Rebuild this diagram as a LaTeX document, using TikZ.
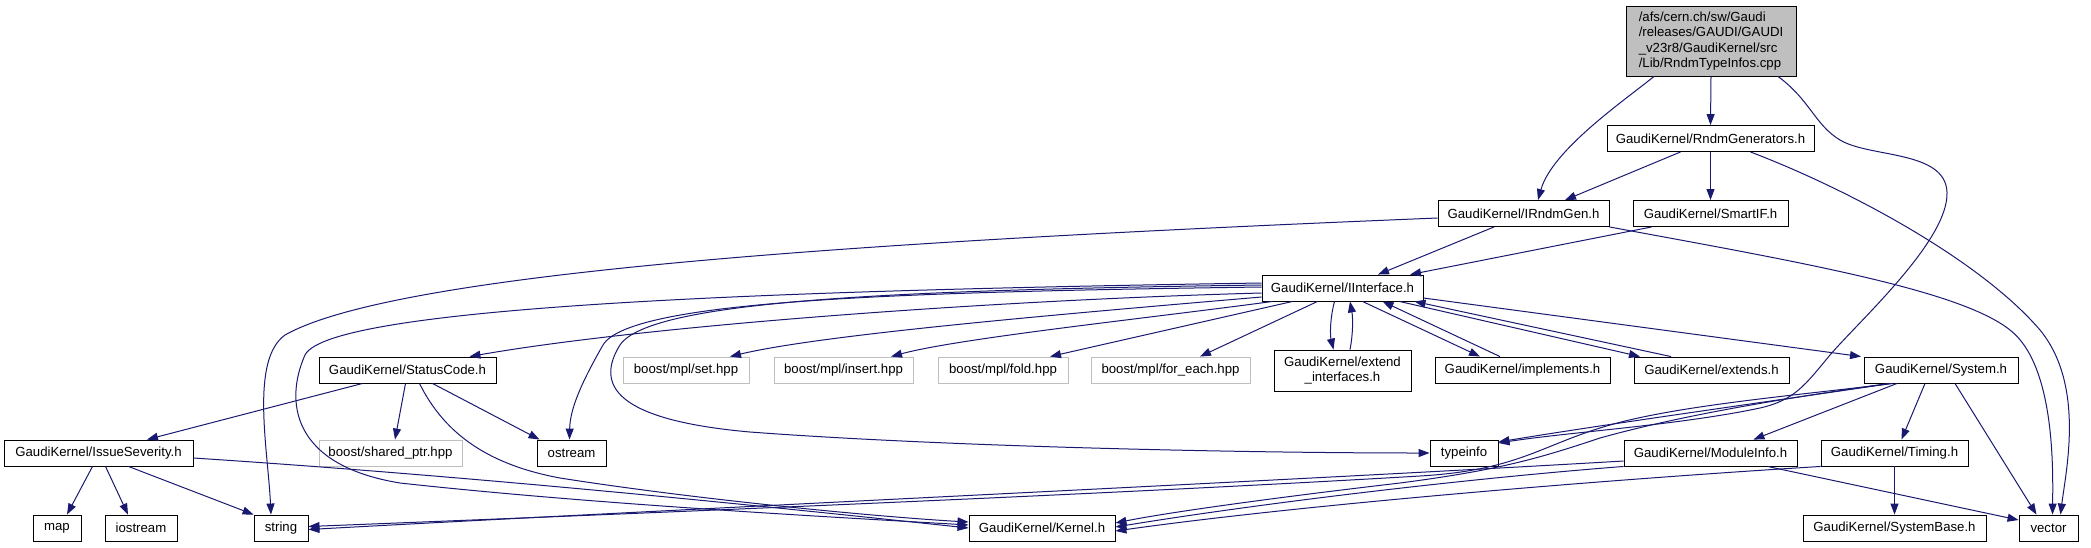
\documentclass[tikz,border=0pt]{standalone}
\usepackage{fontspec}
\setmainfont{Liberation Sans}
\usetikzlibrary{arrows.meta}
\definecolor{edgeblue}{HTML}{191970}
\definecolor{grey75}{HTML}{BFBFBF}
\newcommand\dfnt{\fontsize{13.2}{15.3}\selectfont}
\begin{document}
\begin{tikzpicture}[x=1pt,y=-1pt,
  box/.style={draw=black,line width=0.9pt,rectangle,minimum height=26pt,inner sep=0pt,font=\dfnt,fill=white},
  gbox/.style={box,draw=grey75},
  edge/.style={draw=edgeblue,line width=1pt,-{Triangle[length=11pt,width=8pt]}}]
\useasboundingbox (0,0) rectangle (2091,547);
% nodes
\node[box,minimum width=170pt,minimum height=70pt,fill=grey75,align=left] (root) at (1711,41) {/afs/cern.ch/sw/Gaudi\\/releases/GAUDI/GAUDI\\\_v23r8/GaudiKernel/src\\/Lib/RndmTypeInfos.cpp};
\node[box,minimum width=207pt] (RG) at (1710.5,138.5) {GaudiKernel/RndmGenerators.h};
\node[box,minimum width=171pt] (IRG) at (1523.5,213.5) {GaudiKernel/IRndmGen.h};
\node[box,minimum width=155pt] (SIF) at (1710.5,213.5) {GaudiKernel/SmartIF.h};
\node[box,minimum width=161pt] (II) at (1342.5,288) {GaudiKernel/IInterface.h};
\node[box,minimum width=177pt] (SC) at (407.5,370) {GaudiKernel/StatusCode.h};
\node[gbox,minimum width=126pt] (set) at (686,370) {boost/mpl/set.hpp};
\node[gbox,minimum width=139pt] (ins) at (843.5,370) {boost/mpl/insert.hpp};
\node[gbox,minimum width=130pt] (fold) at (1003,370) {boost/mpl/fold.hpp};
\node[gbox,minimum width=159pt] (fe) at (1170.5,370) {boost/mpl/for\_each.hpp};
\node[box,minimum width=137pt,minimum height=41pt,align=center] (ei) at (1342.5,370.5) {GaudiKernel/extend\\\_interfaces.h};
\node[box,minimum width=175pt] (impl) at (1522.5,370) {GaudiKernel/implements.h};
\node[box,minimum width=155pt] (ext) at (1711.5,370) {GaudiKernel/extends.h};
\node[box,minimum width=154pt] (sys) at (1941,370) {GaudiKernel/System.h};
\node[box,minimum width=189pt] (IS) at (98.5,453) {GaudiKernel/IssueSeverity.h};
\node[gbox,minimum width=143pt] (sp) at (390.5,453) {boost/shared\_ptr.hpp};
\node[box,minimum width=69pt] (os) at (571.5,453) {ostream};
\node[box,minimum width=68pt] (ti) at (1464,453) {typeinfo};
\node[box,minimum width=173pt] (mi) at (1710.5,453) {GaudiKernel/ModuleInfo.h};
\node[box,minimum width=147pt] (tm) at (1894.5,453) {GaudiKernel/Timing.h};
\node[box,minimum width=48pt] (map) at (57,528) {map};
\node[box,minimum width=72pt] (ios) at (141,528) {iostream};
\node[box,minimum width=54pt] (str) at (281,528) {string};
\node[box,minimum width=146pt] (ker) at (1042,528) {GaudiKernel/Kernel.h};
\node[box,minimum width=183pt] (sb) at (1894.5,528) {GaudiKernel/SystemBase.h};
\node[box,minimum width=59pt] (vec) at (2048.5,528) {vector};
% edges
\draw[edge] (root.south) -- (RG.north);
\draw[edge] ([xshift=-57pt]root.south) .. controls (1625,100) and (1552,150) .. ([xshift=14.5pt]IRG.north);
\draw[edge] ([xshift=67pt]root.south) .. controls (1810,100) and (1815,125) .. (1840,140) .. controls (1870,158) and (1945,150) .. (1947,192) .. controls (1949,240) and (1860,320) .. (1830,355) .. controls (1805,385) and (1795,400) .. (1760,408) .. controls (1680,425) and (1570,432) .. ([yshift=10pt]ti.east);
\draw[edge] ([xshift=-30pt]RG.south) -- ([xshift=41.5pt]IRG.north);
\draw[edge] (RG.south) -- (SIF.north);
\draw[edge] ([xshift=40pt]RG.south) .. controls (1850,190) and (1980,260) .. (2040,330) .. controls (2085,385) and (2066,470) .. ([xshift=12pt]vec.north);
\draw[edge] ([xshift=-29.5pt]IRG.south) -- ([xshift=35.5pt]II.north);
\draw[edge] ([yshift=-4.5pt]IRG.west) .. controls (900,240) and (400,270) .. (285,335) .. controls (250,360) and (268,450) .. ([xshift=-10pt]str.north);
\draw[edge] (IRG.south east) .. controls (1800,262) and (1960,290) .. (2010,330) .. controls (2055,365) and (2053,470) .. ([xshift=4pt]vec.north);
\draw[edge] ([xshift=-59pt]SIF.south) -- ([xshift=67.5pt]II.north);
\draw[edge] ([yshift=-5pt]II.west) .. controls (1000,300) and (650,325) .. ([xshift=62pt]SC.north);
\draw[edge] ([yshift=5pt]II.west) .. controls (800,290) and (330,305) .. (305,355) .. controls (285,400) and (290,465) .. (400,483) .. controls (600,505) and (850,518) .. ([yshift=3pt]ker.west);
\draw[edge] ([yshift=1pt]II.west) .. controls (900,292) and (630,300) .. (603,345) .. controls (580,385) and (570,410) .. ([xshift=-2pt]os.north);
\draw[edge] ([yshift=3pt]II.west) .. controls (900,290) and (650,300) .. (620,345) .. controls (595,385) and (615,420) .. (750,432) .. controls (950,447) and (1250,453) .. (ti.west);
\draw[edge] ([yshift=-9pt]II.west) .. controls (1050,315) and (820,335) .. ([xshift=44pt]set.north);
\draw[edge] ([xshift=-70pt]II.south) .. controls (1150,318) and (960,338) .. ([xshift=47.5pt]ins.north);
\draw[edge] ([xshift=-50pt]II.south) -- ([xshift=47pt]fold.north);
\draw[edge] ([xshift=-25pt]II.south) -- ([xshift=29.5pt]fe.north);
\draw[edge] ([xshift=-8pt]II.south) .. controls (1330,318) and (1330,335) .. ([xshift=-9pt]ei.north);
\draw[edge] ([xshift=7.5pt]ei.north) .. controls (1353,335) and (1353,318) .. ([xshift=7.5pt]II.south);
\draw[edge] ([xshift=20pt]II.south) -- ([xshift=-42.5pt]impl.north);
\draw[edge] ([xshift=-22.5pt]impl.north) -- ([xshift=40pt]II.south);
\draw[edge] ([xshift=57pt]II.south) -- ([xshift=-71.5pt]ext.north);
\draw[edge] ([xshift=-40.5pt]ext.north) -- ([xshift=72pt]II.south);
\draw[edge] ([yshift=-10pt]II.east) -- ([xshift=-80pt]sys.north);
\draw[edge] ([xshift=-45pt]SC.south) -- ([xshift=48.5pt]IS.north);
\draw[edge] ([xshift=-2pt]SC.south) -- ([xshift=4.5pt]sp.north);
\draw[edge] ([xshift=25pt]SC.south) -- ([xshift=-32pt]os.north);
\draw[edge] ([xshift=12pt]SC.south) .. controls (445,435) and (490,465) .. (560,478) .. controls (700,500) and (880,517) .. ([yshift=6pt]ker.west);
\draw[edge] ([xshift=-6pt]IS.south) -- ([xshift=10pt]map.north);
\draw[edge] ([xshift=7pt]IS.south) -- ([xshift=-13pt]ios.north);
\draw[edge] ([xshift=30pt]IS.south) -- (str.north west);
\draw[edge] ([yshift=-5pt]IS.east) .. controls (500,478) and (800,510) .. (ker.west);
\draw[edge] ([xshift=-50pt]sys.south) .. controls (1780,400) and (1600,425) .. ([yshift=11pt]ti.east);
\draw[edge] ([xshift=-52pt]sys.south) .. controls (1830,392) and (1700,410) .. (1600,438) .. controls (1540,458) and (1500,470) .. (1400,483) .. controls (1280,497) and (1170,512) .. ([yshift=5pt]ker.east);
\draw[edge] ([xshift=-48pt]sys.south) .. controls (1800,395) and (1680,405) .. (1610,425) .. controls (1540,445) and (1520,470) .. (1420,476) .. controls (1100,495) and (600,515) .. ([yshift=1.5pt]str.east);
\draw[edge] ([xshift=-44pt]sys.south) -- ([xshift=43pt]mi.north);
\draw[edge] ([xshift=-16pt]sys.south) -- ([xshift=7pt]tm.north);
\draw[edge] ([xshift=14pt]sys.south) -- ([xshift=-12pt]vec.north);
\draw[edge] ([yshift=-8pt]mi.west) .. controls (1300,480) and (700,508) .. ([yshift=-1.5pt]str.east);
\draw[edge] (mi.south west) .. controls (1450,480) and (1250,505) .. ([yshift=1pt]ker.east);
\draw[edge] ([xshift=57pt]mi.south) -- ([yshift=8pt]vec.west);
\draw[edge] (tm.south west) .. controls (1600,480) and (1300,505) .. ([yshift=-3pt]ker.east);
\draw[edge] (tm.south) -- (sb.north);
\end{tikzpicture}
\end{document}
